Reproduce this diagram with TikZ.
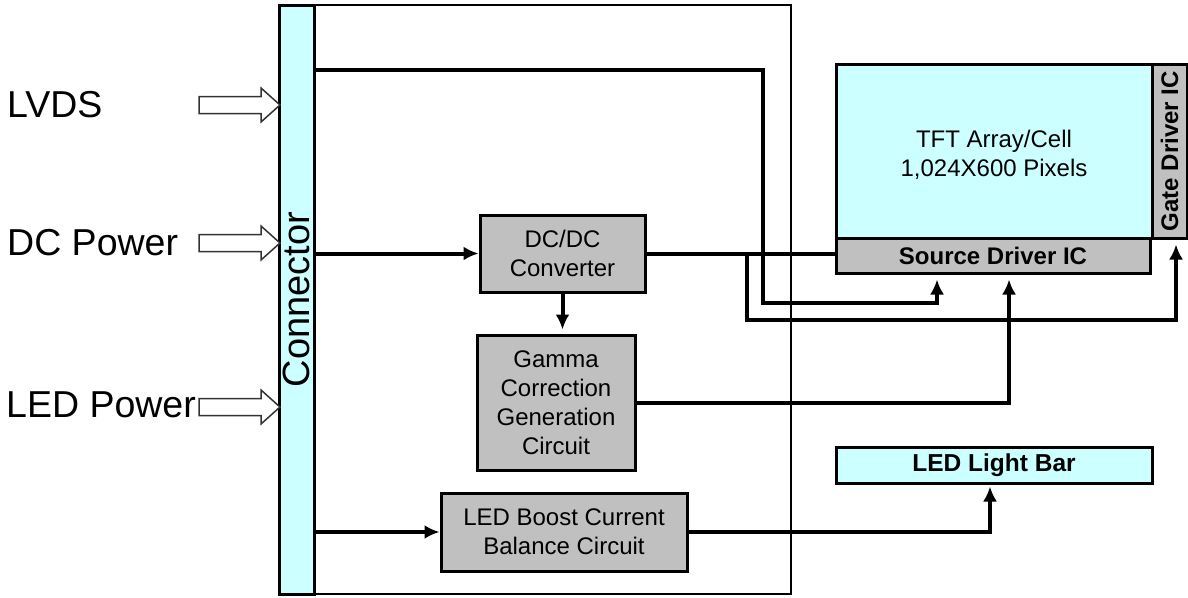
\documentclass[tikz,border=0pt]{standalone}
\usepackage{fontspec}
\setmainfont{Liberation Sans}
\usetikzlibrary{arrows.meta}
\definecolor{cyanfill}{HTML}{CCFFFF}
\definecolor{grayfill}{HTML}{C0C0C0}
\begin{document}
\begin{tikzpicture}[x=1pt,y=-1pt,
  box/.style={draw, line width=3pt, inner sep=0pt, align=center, font=\fontsize{24}{29}\selectfont},
  graybox/.style={box, fill=grayfill},
  cyanbox/.style={box, fill=cyanfill},
  wire/.style={line width=4pt},
  arr/.style={wire, -{Latex[length=15pt,width=14pt]}},
  hollow/.style={draw=black!80, line width=1.5pt, fill=white},
  biglabel/.style={font=\fontsize{37.5}{42}\selectfont, anchor=west, inner sep=0pt}]
\useasboundingbox (0,0) rectangle (1188,597);
% outer frame and connector
\node[draw, line width=2pt, minimum width=512pt, minimum height=589pt, inner sep=0pt] (outer) at (535,299.5) {};
\node[cyanbox, minimum width=35pt, minimum height=589pt] (conn) at (296.5,299.5) {\rotatebox{90}{\fontsize{38}{42}\selectfont Connector}};
% inner blocks
\node[graybox, minimum width=165pt, minimum height=77pt] (dcdc) at (562.5,253.5) {DC/DC\\Converter};
\node[graybox, minimum width=158pt, minimum height=135pt] (gamma) at (556,402.5) {Gamma\\Correction\\Generation\\Circuit};
\node[graybox, minimum width=246pt, minimum height=78pt] (boost) at (564,532) {LED Boost Current\\Balance Circuit};
% panel
\node[cyanbox, minimum width=316pt, minimum height=174pt] (tft) at (994,151) {};
\node (tftlbl) at (994,155) [align=center, font=\fontsize{24}{29}\selectfont] {TFT Array/Cell\\1,024X600 Pixels};
\node[graybox, minimum width=314pt, minimum height=35pt, font=\fontsize{24}{28}\selectfont\bfseries] (src) at (993,255.5) {Source Driver IC};
\node[graybox, minimum width=35pt, minimum height=174pt] (gate) at (1169.5,151) {\rotatebox{90}{\fontsize{24}{28}\selectfont\bfseries Gate Driver IC}};
\node[cyanbox, minimum width=316pt, minimum height=36pt, font=\fontsize{24.5}{29}\selectfont\bfseries] (ledbar) at (994,465) {LED Light Bar};
% left labels and hollow arrows
\node[biglabel] (lvds) at (7,105) {LVDS};
\node[biglabel] (dcp) at (7,243) {DC Power};
\node[biglabel] (ledp) at (6,405) {LED Power};
\foreach \yc in {105,243,407}{
  \draw[hollow] (199,\yc-8.5) -- (261,\yc-8.5) -- (261,\yc-17) -- (280,\yc) -- (261,\yc+17) -- (261,\yc+8.5) -- (199,\yc+8.5) -- cycle;
}
% routing coordinates
\coordinate (l1) at (763,70);
\coordinate (l2) at (763,303);
\coordinate (l3) at (937,303);
\coordinate (b1) at (747,253.5);
\coordinate (b2) at (747,320);
\coordinate (b3) at (1176,320);
\coordinate (g1) at (1009,402.5);
\coordinate (e1) at (990,532);
% connectors
\draw[arr, shorten >=5pt] (conn.east |- l1) -- (l1) -- (l2) -- (l3) -- (l3 |- src.south);
\draw[arr] (conn.east |- dcdc.west) -- (dcdc.west);
\draw[arr, shorten >=4pt] (dcdc.south) -- (dcdc.south |- gamma.north);
\draw[wire] (dcdc.east) -- (dcdc.east -| src.west);
\draw[arr, shorten >=5pt] (b1) -- (b2) -- (b3) -- (b3 |- gate.south);
\draw[arr, shorten >=5pt] (gamma.east) -- (g1) -- (g1 |- src.south);
\draw[arr] (conn.east |- boost.west) -- (boost.west);
\draw[arr, shorten >=2pt] (boost.east) -- (e1) -- (e1 |- ledbar.south);
\end{tikzpicture}
\end{document}
